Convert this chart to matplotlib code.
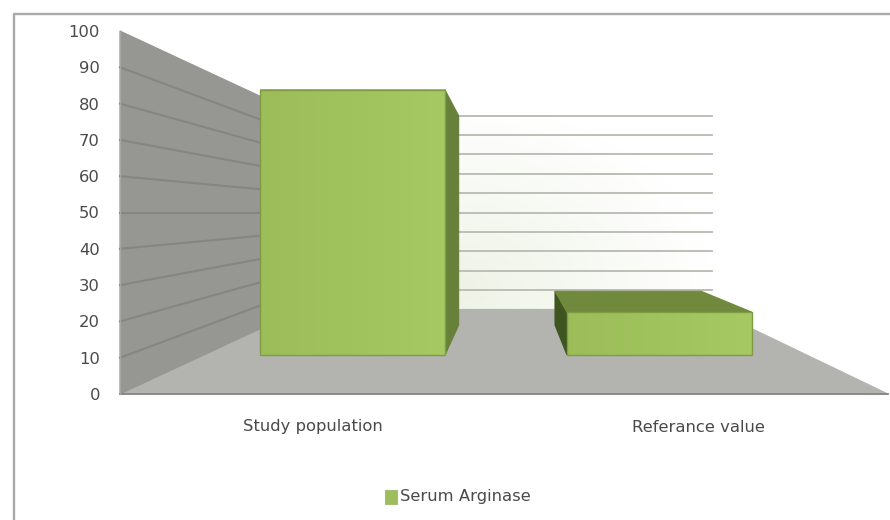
import numpy as np
import matplotlib
matplotlib.use("Agg")
import matplotlib.pyplot as plt
from matplotlib.colors import LinearSegmentedColormap
from matplotlib.patches import Polygon, Rectangle

categories = ["Study population", "Referance value"]
values = [93, 15]
series_name = "Serum Arginase"
y_ticks = [0, 10, 20, 30, 40, 50, 60, 70, 80, 90, 100]

# Perspective geometry of the pseudo-3D chart, in image pixels
FRONT_L, FRONT_R = 120.0, 888.0
VX, VY = 510.0, 212.5
FRONT_Y0, FRONT_SCALE = 394.0, 3.63
BACK_S = 0.534
BAR_FRONT_S, BAR_BACK_S = 0.785, 0.62
BAR_SPANS = [(191.5, 427.2), (582.6, 818.3)]
LABEL_CENTRES = [312.5, 698.0]

BAR = "#9dbe5b"
TEXT = "#4a4a4a"
FONT = "DejaVu Sans"
FS = 11.8


def project(front_x, s, value):
    px = VX + (front_x - VX) * s
    py = VY + (FRONT_Y0 - FRONT_SCALE * value - VY) * s
    return (px, py)


fig = plt.figure(figsize=(8.9, 5.2), dpi=100)
ax = fig.add_axes([0, 0, 1, 1])
ax.set_xlim(0, 890)
ax.set_ylim(520, 0)
ax.axis("off")


def face(points, color, z, edge=None, lw=0.8):
    p = Polygon(points, closed=True, facecolor=color, edgecolor=edge or color, lw=lw, zorder=z)
    ax.add_patch(p)
    return p


# Outer frame
ax.plot([13.5, 13.5, 890], [520, 14, 14], color="#a9a9a9", lw=1.7, zorder=1)

# Back wall with soft gradient
back = [project(FRONT_L, BACK_S, 0), project(FRONT_R, BACK_S, 0),
        project(FRONT_R, BACK_S, 100), project(FRONT_L, BACK_S, 100)]
grad_x, grad_y = np.meshgrid(np.linspace(0, 1, 200), np.linspace(0, 1, 200))
grad = np.clip(1 - np.hypot((grad_x - 0.38) / 0.62, (grad_y - 0.1) / 0.95), 0, 1)
wall_cmap = LinearSegmentedColormap.from_list("wall", ["#ffffff", "#eef3e6"])
im = ax.imshow(grad, extent=(back[0][0], back[1][0], back[0][1], back[2][1]),
               cmap=wall_cmap, vmin=0, vmax=1, aspect="auto", zorder=2, origin="lower")
ax.set_xlim(0, 890)
ax.set_ylim(520, 0)

# Floor
face([project(FRONT_L, 1, 0), project(FRONT_R, 1, 0),
      project(FRONT_R, BACK_S, 0), project(FRONT_L, BACK_S, 0)], "#b3b4b0", 3)

# Left wall
face([project(FRONT_L, 1, 0), project(FRONT_L, BACK_S, 0),
      project(FRONT_L, BACK_S, 100), project(FRONT_L, 1, 100)], "#969793", 4)

# Gridlines on both walls, and tick labels
for tick in y_ticks:
    p_front = project(FRONT_L, 1, tick)
    p_back_l = project(FRONT_L, BACK_S, tick)
    p_back_r = project(FRONT_R, BACK_S, tick)
    if tick > 0:
        ax.plot([p_back_l[0], p_back_r[0]], [p_back_l[1], p_back_r[1]],
                color="#bdbfb7", lw=1.4, zorder=3)
    if 0 < tick < 100:
        ax.plot([p_front[0], p_back_l[0]], [p_front[1], p_back_l[1]],
                color="#84867f", lw=1.5, zorder=5)
    ax.text(100, p_front[1] + 1.5, str(tick), ha="right", va="center",
            fontsize=FS, color=TEXT, family=FONT, zorder=10)

# Axis lines
ax.plot([FRONT_L, FRONT_R], [FRONT_Y0, FRONT_Y0], color="#858585", lw=1.3, zorder=6)
ax.plot([FRONT_L, FRONT_L], [FRONT_Y0, project(FRONT_L, 1, 100)[1]], color="#a5a5a5", lw=1.0, zorder=6)

# Bars
for (x0, x1), value in zip(BAR_SPANS, values):
    f_bl = project(x0, BAR_FRONT_S, 0)
    f_br = project(x1, BAR_FRONT_S, 0)
    f_tl = project(x0, BAR_FRONT_S, value)
    f_tr = project(x1, BAR_FRONT_S, value)
    b_bl = project(x0, BAR_BACK_S, 0)
    b_br = project(x1, BAR_BACK_S, 0)
    b_tl = project(x0, BAR_BACK_S, value)
    b_tr = project(x1, BAR_BACK_S, value)
    # side visible depends on which side of the vanishing point the bar stands
    if x1 < VX:
        face([f_br, f_tr, b_tr, b_br], "#67803a", 7)
    else:
        face([f_bl, f_tl, b_tl, b_bl], "#3f5520", 7)
    # top face shows only when below the eye level
    if value < 50:
        face([f_tl, f_tr, b_tr, b_tl], "#71893c", 7)
    face([f_bl, f_br, f_tr, f_tl], "none", 8, edge="#7f9c45", lw=1.0)
    ramp = np.linspace(0, 1, 64).reshape(1, -1)
    bar_cmap = LinearSegmentedColormap.from_list("bar", ["#9cbd59", "#a6c963"])
    ax.imshow(ramp, extent=(f_bl[0], f_br[0], f_bl[1], f_tl[1]),
              cmap=bar_cmap, aspect="auto", zorder=7.5, origin="lower")
    ax.set_xlim(0, 890)
    ax.set_ylim(520, 0)

# Category labels
for cat, cx in zip(categories, LABEL_CENTRES):
    ax.text(cx, 427, cat, ha="center", va="center", fontsize=FS, color=TEXT, family=FONT, zorder=10)

# Legend
ax.add_patch(Rectangle((385, 489.5), 12, 14.5, facecolor=BAR, edgecolor="#a8bd7c", lw=0.8, zorder=10))
ax.text(400, 497, series_name, ha="left", va="center", fontsize=FS, color=TEXT, family=FONT, zorder=10)

fig.savefig("out.png", dpi=100)
